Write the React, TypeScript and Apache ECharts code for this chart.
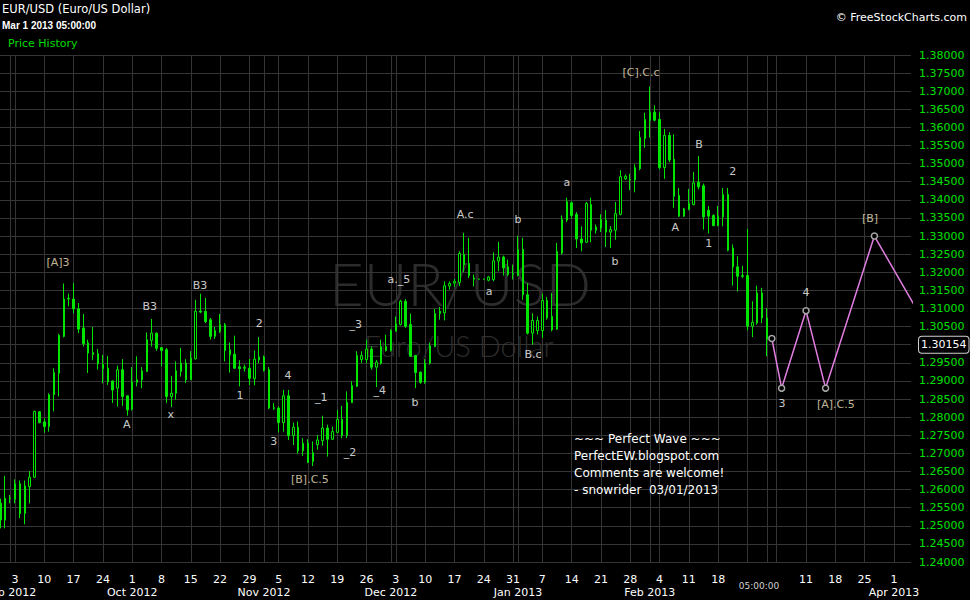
import React, { useEffect, useRef } from 'react';
import * as echarts from 'echarts';

const FIRST_DAY_UTC = Date.UTC(2012, 7, 30);
const CATEGORY_COUNT = 187;
const MONTHS = ['Jan', 'Feb', 'Mar', 'Apr', 'May', 'Jun', 'Jul', 'Aug', 'Sep', 'Oct', 'Nov', 'Dec'];

// daily bars: [open, close, low, high]
const bars: number[][] = [
  [1.2562, 1.2516, 1.2493, 1.2575], [1.2516, 1.2576, 1.2493, 1.2638], [1.2575, 1.2577, 1.2562, 1.2585],
  [1.2573, 1.2616, 1.2562, 1.2628], [1.2616, 1.2534, 1.2521, 1.2625], [1.2534, 1.2610, 1.2504, 1.2625],
  [1.2608, 1.2634, 1.2562, 1.2651], [1.2634, 1.2816, 1.2632, 1.2818], [1.2815, 1.2785, 1.2783, 1.2817],
  [1.2787, 1.2774, 1.2757, 1.2797], [1.2774, 1.2862, 1.2760, 1.2866], [1.2862, 1.2923, 1.2816, 1.2935],
  [1.2921, 1.3026, 1.2857, 1.3030], [1.3023, 1.3126, 1.3020, 1.3169], [1.3126, 1.3128, 1.3106, 1.3141],
  [1.3126, 1.3099, 1.3087, 1.3170], [1.3099, 1.3043, 1.3032, 1.3115], [1.3046, 1.3003, 1.2995, 1.3085],
  [1.3005, 1.2977, 1.2922, 1.3014], [1.2978, 1.2973, 1.2957, 1.3049], [1.2975, 1.2947, 1.2931, 1.2988],
  [1.2946, 1.2934, 1.2894, 1.2972], [1.2935, 1.2898, 1.2889, 1.2969], [1.2900, 1.2875, 1.2839, 1.2901],
  [1.2880, 1.2931, 1.2829, 1.2942], [1.2931, 1.2857, 1.2831, 1.2960], [1.2859, 1.2820, 1.2804, 1.2859],
  [1.2822, 1.2897, 1.2818, 1.2938], [1.2896, 1.2903, 1.2885, 1.2968], [1.2903, 1.2928, 1.2880, 1.2938],
  [1.2926, 1.3014, 1.2926, 1.3034], [1.3012, 1.3032, 1.2995, 1.3071], [1.3032, 1.2990, 1.2983, 1.3034],
  [1.2992, 1.2984, 1.2940, 1.2993], [1.2986, 1.2857, 1.2839, 1.2991], [1.2857, 1.2866, 1.2828, 1.2914],
  [1.2866, 1.2928, 1.2848, 1.2954], [1.2926, 1.2949, 1.2912, 1.2991], [1.2949, 1.2903, 1.2894, 1.2960],
  [1.2903, 1.2963, 1.2903, 1.2982], [1.2961, 1.3092, 1.2959, 1.3124], [1.3093, 1.3090, 1.3087, 1.3141],
  [1.3092, 1.3064, 1.3060, 1.3129], [1.3069, 1.3023, 1.3014, 1.3074], [1.3023, 1.3039, 1.3016, 1.3049],
  [1.3037, 1.3055, 1.3032, 1.3085], [1.3055, 1.2984, 1.2954, 1.3060], [1.2986, 1.2972, 1.2923, 1.3006],
  [1.2974, 1.2935, 1.2933, 1.3025], [1.2939, 1.2934, 1.2885, 1.2957], [1.2935, 1.2938, 1.2926, 1.2945],
  [1.2935, 1.2907, 1.2889, 1.2960], [1.2906, 1.2960, 1.2888, 1.2984], [1.2958, 1.2966, 1.2949, 1.3021],
  [1.2966, 1.2929, 1.2926, 1.2970], [1.2931, 1.2825, 1.2822, 1.2938], [1.2826, 1.2824, 1.2820, 1.2839],
  [1.2825, 1.2785, 1.2758, 1.2830], [1.2785, 1.2859, 1.2760, 1.2875], [1.2859, 1.2749, 1.2737, 1.2875],
  [1.2749, 1.2772, 1.2723, 1.2785], [1.2772, 1.2707, 1.2699, 1.2788], [1.2707, 1.2728, 1.2693, 1.2742],
  [1.2728, 1.2675, 1.2673, 1.2739], [1.2677, 1.2702, 1.2665, 1.2733], [1.2724, 1.2737, 1.2710, 1.2751],
  [1.2735, 1.2770, 1.2721, 1.2804], [1.2770, 1.2739, 1.2691, 1.2779], [1.2739, 1.2760, 1.2737, 1.2774],
  [1.2758, 1.2794, 1.2756, 1.2820], [1.2794, 1.2749, 1.2742, 1.2831], [1.2749, 1.2841, 1.2742, 1.2871],
  [1.2840, 1.2887, 1.2839, 1.2899], [1.2885, 1.2970, 1.2883, 1.2982], [1.2959, 1.2970, 1.2949, 1.2982],
  [1.2959, 1.2988, 1.2949, 1.3014], [1.2988, 1.2938, 1.2931, 1.2995], [1.2938, 1.2952, 1.2883, 1.2958],
  [1.2949, 1.2995, 1.2945, 1.3014], [1.2995, 1.2984, 1.2981, 1.3028], [1.2984, 1.3039, 1.2981, 1.3043],
  [1.3037, 1.3058, 1.3037, 1.3078], [1.3056, 1.3120, 1.3053, 1.3124], [1.3120, 1.3051, 1.3046, 1.3126],
  [1.3056, 1.2968, 1.2966, 1.3086], [1.2970, 1.2923, 1.2880, 1.2972], [1.2924, 1.2896, 1.2892, 1.2926],
  [1.2896, 1.2949, 1.2892, 1.2960], [1.2949, 1.2997, 1.2945, 1.3006], [1.2995, 1.3086, 1.2993, 1.3099],
  [1.3092, 1.3086, 1.3069, 1.3104], [1.3088, 1.3163, 1.3067, 1.3175], [1.3162, 1.3169, 1.3152, 1.3175],
  [1.3170, 1.3175, 1.3160, 1.3182], [1.3172, 1.3252, 1.3162, 1.3258], [1.3249, 1.3221, 1.3200, 1.3309],
  [1.3224, 1.3191, 1.3184, 1.3295], [1.3184, 1.3181, 1.3161, 1.3194], [1.3181, 1.3181, 1.3180, 1.3182],
  [1.3181, 1.3181, 1.3180, 1.3182], [1.3178, 1.3187, 1.3175, 1.3190], [1.3180, 1.3232, 1.3175, 1.3255],
  [1.3231, 1.3242, 1.3203, 1.3284], [1.3242, 1.3212, 1.3191, 1.3246], [1.3215, 1.3194, 1.3189, 1.3235],
  [1.3194, 1.3197, 1.3180, 1.3221], [1.3191, 1.3263, 1.3189, 1.3301], [1.3263, 1.3138, 1.3124, 1.3295],
  [1.3138, 1.3032, 1.3028, 1.3170], [1.3032, 1.3067, 1.3000, 1.3087], [1.3039, 1.3067, 1.3028, 1.3078],
  [1.3039, 1.3122, 1.3019, 1.3141], [1.3122, 1.3074, 1.3069, 1.3132], [1.3078, 1.3041, 1.3037, 1.3143],
  [1.3043, 1.3258, 1.3041, 1.3281], [1.3253, 1.3346, 1.3249, 1.3357], [1.3344, 1.3395, 1.3339, 1.3406],
  [1.3392, 1.3357, 1.3348, 1.3396], [1.3360, 1.3292, 1.3267, 1.3366], [1.3292, 1.3281, 1.3258, 1.3327],
  [1.3283, 1.3390, 1.3281, 1.3394], [1.3387, 1.3316, 1.3283, 1.3406], [1.3325, 1.3316, 1.3307, 1.3332],
  [1.3322, 1.3346, 1.3311, 1.3360], [1.3344, 1.3311, 1.3270, 1.3372], [1.3311, 1.3318, 1.3267, 1.3327],
  [1.3316, 1.3362, 1.3290, 1.3394], [1.3360, 1.3464, 1.3357, 1.3482], [1.3458, 1.3465, 1.3455, 1.3470],
  [1.3457, 1.3455, 1.3427, 1.3472], [1.3455, 1.3489, 1.3421, 1.3498], [1.3486, 1.3572, 1.3482, 1.3590],
  [1.3569, 1.3622, 1.3544, 1.3641], [1.3620, 1.3642, 1.3572, 1.3713], [1.3642, 1.3620, 1.3617, 1.3661],
  [1.3622, 1.3489, 1.3484, 1.3642], [1.3489, 1.3578, 1.3458, 1.3596], [1.3578, 1.3510, 1.3504, 1.3587],
  [1.3512, 1.3410, 1.3378, 1.3581], [1.3412, 1.3355, 1.3353, 1.3433], [1.3355, 1.3375, 1.3353, 1.3378],
  [1.3373, 1.3390, 1.3371, 1.3430], [1.3387, 1.3447, 1.3385, 1.3477], [1.3449, 1.3436, 1.3429, 1.3521],
  [1.3439, 1.3353, 1.3318, 1.3445], [1.3371, 1.3355, 1.3307, 1.3383], [1.3357, 1.3329, 1.3327, 1.3360],
  [1.3329, 1.3355, 1.3327, 1.3383], [1.3353, 1.3415, 1.3327, 1.3433], [1.3415, 1.3261, 1.3258, 1.3433],
  [1.3267, 1.3215, 1.3163, 1.3277], [1.3215, 1.3189, 1.3147, 1.3244], [1.3191, 1.3189, 1.3184, 1.3218],
  [1.3191, 1.3051, 1.3040, 1.3320], [1.3051, 1.3062, 1.3021, 1.3120], [1.3060, 1.3143, 1.3055, 1.3163],
  [1.3143, 1.3074, 1.3060, 1.3157], [1.3074, 1.30154, 1.2968, 1.3101],
];

const lastPrice = 1.30154;

// projected wave path: [bar index, price]
const projection: number[][] = [
  [158, 1.3017], [160, 1.2880], [165, 1.3094], [169, 1.2880], [179, 1.3300], [191, 1.3020],
];

// wave labels: [text, bar index, price]
const annotations: [string, number, number][] = [
  ['[A]3', 11.8, 1.3227], ['A', 25.9, 1.2779], ['B3', 30.6, 1.3105], ['x', 34.9, 1.2806],
  ['B3', 40.9, 1.3163], ['1', 49.1, 1.2859], ['2', 53.0, 1.3058], ['3', 56.0, 1.2732],
  ['4', 58.9, 1.2914], ['_1', 65.7, 1.2853], ['[B].C.5', 63.4, 1.2627], ['_2', 71.6, 1.2701],
  ['_3', 72.8, 1.3055], ['_4', 77.7, 1.2873], ['a._5', 81.6, 1.3180], ['b', 84.9, 1.2840],
  ['A.c', 95.2, 1.3359], ['a', 100.1, 1.3147], ['b', 106.0, 1.3346], ['B.c', 109.1, 1.2972],
  ['a', 116.0, 1.3448], ['b', 125.9, 1.3229], ['[C].C.c', 131.2, 1.3752], ['A', 138.2, 1.3324],
  ['B', 143.1, 1.3553], ['1', 145.1, 1.3279], ['2', 150.0, 1.3478], ['3', 160.1, 1.2837],
  ['4', 165.0, 1.3144], ['[A].C.5', 171.1, 1.2834], ['[B]', 178.1, 1.3348],
];

const noteLines = ['~~~ Perfect Wave ~~~', 'PerfectEW.blogspot.com', 'Comments are welcome!', '- snowrider  03/01/2013'];

const hiddenDayLabels = ['2013-02-25', '2013-03-04'];
const hiddenMonthLabels = ['2013-03-01'];

const Y_MIN = 1.24;
const Y_MAX = 1.38;
const Y_STEP = 0.005;

const FONT = 'DejaVu Sans';
const GREEN = '#00e600';
const GRID_LINE = '#353535';

function buildDates(): string[] {
  const out: string[] = [];
  const d = new Date(FIRST_DAY_UTC);
  while (out.length < CATEGORY_COUNT) {
    if (d.getUTCDay() !== 6) out.push(d.toISOString().slice(0, 10));
    d.setUTCDate(d.getUTCDate() + 1);
  }
  return out;
}

export default function App() {
  const ref = useRef<HTMLDivElement>(null);

  useEffect(() => {
    if (!ref.current) return;
    const chart = echarts.init(ref.current, undefined, { renderer: 'svg' });
    const dates = buildDates();
    const dow = (i: number) => new Date(dates[i] + 'T00:00:00Z').getUTCDay();
    const isMonday = (i: number) => dow(i) === 1;
    const isMonthStart = (i: number) => i > 0 && dates[i].slice(0, 7) !== dates[i - 1].slice(0, 7);

    const bracketColor = '#f3e4c2';
    const annData = annotations.map(([t, x, y]) => ({
      name: t,
      value: [x, y],
      label: { color: t.startsWith('[') ? bracketColor : '#ffffff' },
    }));

    const projData = projection.map((p, i) =>
      i === projection.length - 1 ? { value: p, symbol: 'none' } : { value: p }
    );

    const txt = (x: number, y: number, text: string, font: string, fill: string, align = 'left', z = 10) => ({
      type: 'text',
      x,
      y,
      z,
      silent: true,
      style: { text, font, fill, align, textAlign: align, verticalAlign: 'middle', textVerticalAlign: 'middle' },
    });

    const option: any = {
      animation: false,
      backgroundColor: '#000000',
      grid: { left: -2.09, top: 55, width: 913.1, height: 507, containLabel: false, outerBoundsMode: 'none' },
      xAxis: [
        {
          type: 'category',
          data: dates,
          position: 'bottom',
          boundaryGap: true,
          axisLine: { show: false },
          axisTick: { show: false, alignWithLabel: true },
          axisLabel: {
            interval: (i: number) => isMonday(i) && !hiddenDayLabels.includes(dates[i]),
            formatter: (v: string) => String(Number(v.slice(8, 10))),
            color: '#ffffff',
            fontSize: 11,
            fontFamily: FONT,
            margin: 12,
          },
          splitLine: {
            show: true,
            alignWithLabel: true,
            interval: (i: number) => isMonday(i) || isMonthStart(i),
            lineStyle: { color: GRID_LINE, width: 1 },
          },
        },
        {
          type: 'category',
          data: dates,
          position: 'bottom',
          boundaryGap: true,
          axisLine: { show: false },
          axisTick: { show: false },
          splitLine: { show: false },
          axisLabel: {
            interval: (i: number) => isMonthStart(i) && !hiddenMonthLabels.includes(dates[i]),
            formatter: (v: string) => MONTHS[Number(v.slice(5, 7)) - 1] + ' ' + v.slice(0, 4),
            color: '#ffffff',
            fontSize: 11,
            fontFamily: FONT,
            margin: 25,
          },
        },
        { type: 'value', min: -0.5, max: CATEGORY_COUNT - 0.5, show: false, splitLine: { show: false } },
      ],
      yAxis: {
        type: 'value',
        position: 'right',
        min: Y_MIN,
        max: Y_MAX,
        interval: Y_STEP,
        axisLine: { show: false },
        axisTick: { show: false },
        axisLabel: {
          formatter: (v: number) => v.toFixed(5),
          color: '#00e000',
          fontSize: 11,
          fontFamily: FONT,
          margin: 8,
        },
        splitLine: { show: true, lineStyle: { color: GRID_LINE, width: 1 } },
      },
      series: [
        {
          type: 'candlestick',
          xAxisIndex: 0,
          yAxisIndex: 0,
          data: bars,
          barWidth: 2,
          z: 3,
          itemStyle: {
            color: '#000000',
            color0: GREEN,
            borderColor: GREEN,
            borderColor0: GREEN,
            borderWidth: 1,
          },
          markLine: {
            silent: true,
            symbol: ['none', 'none'],
            lineStyle: { color: 'rgba(0,0,0,0)', width: 0 },
            label: {
              show: true,
              position: 'end',
              distance: 8,
              formatter: () => lastPrice.toFixed(5),
              color: '#ffffff',
              backgroundColor: '#000000',
              borderColor: '#d0d0d0',
              borderWidth: 1,
              borderRadius: 3,
              padding: [3, 2, 2, 2],
              fontSize: 11,
              fontFamily: FONT,
            },
            data: [{ yAxis: lastPrice }],
          },
        },
        {
          type: 'line',
          xAxisIndex: 2,
          yAxisIndex: 0,
          data: projData,
          z: 4,
          symbol: 'circle',
          symbolSize: 6,
          lineStyle: { color: '#e27ee2', width: 1.5 },
          itemStyle: { color: '#000000', borderColor: '#a8a8a8', borderWidth: 1.5 },
          silent: true,
        },
        {
          type: 'scatter',
          xAxisIndex: 2,
          yAxisIndex: 0,
          data: annData,
          z: 5,
          symbolSize: 1,
          itemStyle: { color: 'rgba(0,0,0,0)' },
          silent: true,
          label: {
            show: true,
            position: 'inside',
            formatter: (p: any) => p.name,
            color: '#ffffff',
            fontSize: 11,
            fontFamily: FONT,
          },
        },
      ],
      graphic: {
        elements: [
          txt(460, 283, 'EUR/USD', '300 60px Lato', '#2c2c2c', 'center', 0),
          txt(459, 345, 'Euro/US Dollar', '300 29px Lato', '#2c2c2c', 'center', 0),
          txt(2, 9, 'EUR/USD (Euro/US Dollar)', '11.5px DejaVu Sans', '#ffffff'),
          txt(2, 25, 'Mar 1 2013 05:00:00', 'bold 10px "Liberation Sans Narrow", "Liberation Sans"', '#ffffff'),
          txt(8, 43, 'Price History', '11px DejaVu Sans', '#00dd00'),
          txt(967, 17, '\u00A9 FreeStockCharts.com', '11px DejaVu Sans', '#ffffff', 'right'),
          txt(759, 586, '05:00:00', '9px DejaVu Sans', '#d0d0d0', 'center'),
          ...noteLines.map((t, i) => txt(574, 439 + i * 17, t, '12px DejaVu Sans', '#ffffff')),
        ],
      },
    };

    chart.setOption(option);
    return () => chart.dispose();
  }, []);

  return (
    <div
      ref={ref}
      style={{ position: 'absolute', left: 0, top: 0, width: 970, height: 600, background: '#000' }}
    />
  );
}
